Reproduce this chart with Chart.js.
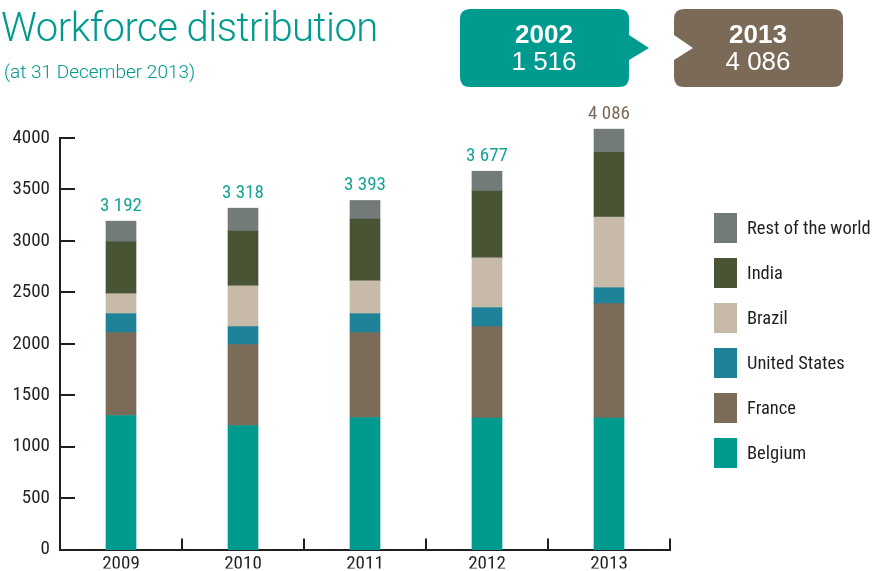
<!DOCTYPE html>
<html>
<head>
<meta charset="utf-8">
<script src="https://cdn.jsdelivr.net/npm/chart.js@4/dist/chart.umd.min.js"></script>
<style>
    html, body { margin: 0; padding: 0; background: #fff; }
    #wrap { position: relative; width: 877px; height: 571px; overflow: hidden; }
    #chart { position: absolute; left: 0; top: 0; }
    .title { position: absolute; left: 1px; top: 8px; font: 300 40px Roboto, sans-serif; letter-spacing: -0.5px; line-height: 1; color: #009a8e; white-space: nowrap; }
    .subtitle { position: absolute; left: 4px; top: 62px; font: 300 19px Roboto, sans-serif; line-height: 1; color: #009a8e; white-space: nowrap; }
    .bubble { position: absolute; top: 0; width: 877px; height: 100px; left: 0; }
    .bubble-text { position: absolute; top: 20.5px; width: 170px; text-align: center; color: #fff;
        font: 26px 'Liberation Sans', Arial, sans-serif; line-height: 27px; }
    .bubble-text b { font-weight: bold; }
</style>
</head>
<body>
<div id="wrap">
    <canvas id="chart" width="877" height="571"></canvas>
    <div class="title">Workforce distribution</div>
    <div class="subtitle">(at 31 December 2013)</div>
    <svg class="bubble" width="877" height="100">
        <path d="M470 9 H619 Q629 9 629 19 V35 L649 48 L629 60 V77 Q629 87 619 87 H470 Q460 87 460 77 V19 Q460 9 470 9 Z" fill="#009b8f"/>
        <path d="M684 9 H833 Q843 9 843 19 V77 Q843 87 833 87 H684 Q674 87 674 77 V60 L693 48 L674 35 V19 Q674 9 684 9 Z" fill="#7c6a58"/>
    </svg>
    <div class="bubble-text" style="left:459px"><b>2002</b><br>1 516</div>
    <div class="bubble-text" style="left:673px"><b>2013</b><br>4 086</div>
</div>
<script>
// ── Data ──
const years = ['2009', '2010', '2011', '2012', '2013'];
const belgium = [1303, 1206, 1284, 1277, 1277];
const france = [806, 787, 825, 890, 1113];
const unitedStates = [184, 174, 184, 184, 155];
const brazil = [194, 397, 319, 484, 687];
const india = [503, 532, 600, 648, 629];
const restOfWorld = [202, 222, 181, 194, 225];
const totals = [3192, 3318, 3393, 3677, 4086];
const yTicks = [0, 500, 1000, 1500, 2000, 2500, 3000, 3500, 4000];

const TEAL = '#009a8e';
const INK = '#231f20';
const FONT = "'Roboto Condensed', 'Liberation Sans', sans-serif";

Chart.defaults.font.family = FONT;
Chart.defaults.font.size = 19;
Chart.defaults.color = INK;

const fmt = v => String(v).replace(/\B(?=(\d{3})+(?!\d))/g, ' ');

// short tick marks drawn inside the plot, like the print version
const innerTicks = {
    id: 'innerTicks',
    afterDraw(chart) {
        const { ctx, chartArea, scales: { x, y } } = chart;
        ctx.save();
        ctx.strokeStyle = INK;
        ctx.lineWidth = 2;
        y.ticks.forEach(t => {
            const py = Math.round(y.getPixelForValue(t.value));
            ctx.beginPath();
            ctx.moveTo(chartArea.left, py);
            ctx.lineTo(chartArea.left + 15, py);
            ctx.stroke();
        });
        const n = x.ticks.length;
        for (let i = 1; i <= n; i++) {
            const px = i === n ? chartArea.right
                : (x.getPixelForValue(i - 1) + x.getPixelForValue(i)) / 2;
            ctx.beginPath();
            ctx.moveTo(Math.round(px), chartArea.bottom);
            ctx.lineTo(Math.round(px), chartArea.bottom - 11);
            ctx.stroke();
        }
        ctx.restore();
    }
};

// totals above each stack
const totalLabels = {
    id: 'totalLabels',
    afterDatasetsDraw(chart) {
        const { ctx } = chart;
        const top = chart.getDatasetMeta(chart.data.datasets.length - 1);
        ctx.save();
        ctx.font = '19px ' + FONT;
        ctx.textAlign = 'center';
        ctx.textBaseline = 'alphabetic';
        top.data.forEach((bar, i) => {
            ctx.fillStyle = i === totals.length - 1 ? '#7c6a58' : '#17a396';
            ctx.fillText(fmt(totals[i]), bar.x, bar.y - 10);
        });
        ctx.restore();
    }
};

// legend on the right, top item = top of stack
const sideLegend = {
    id: 'sideLegend',
    afterDraw(chart) {
        const { ctx } = chart;
        const ds = chart.data.datasets.slice().reverse();
        ctx.save();
        ctx.font = '18.5px ' + FONT;
        ctx.textAlign = 'left';
        ctx.textBaseline = 'alphabetic';
        ds.forEach((d, k) => {
            const y0 = 213 + k * 45;
            ctx.fillStyle = d.backgroundColor;
            ctx.fillRect(714, y0, 23, 30);
            ctx.fillStyle = INK;
            ctx.fillText(d.label, 747, y0 + 21);
        });
        ctx.restore();
    }
};

const series = [
    { label: 'Belgium', data: belgium, color: TEAL },
    { label: 'France', data: france, color: '#7b6b59' },
    { label: 'United States', data: unitedStates, color: '#1e8299' },
    { label: 'Brazil', data: brazil, color: '#c8baa9' },
    { label: 'India', data: india, color: '#495434' },
    { label: 'Rest of the world', data: restOfWorld, color: '#737b78' }
];

new Chart(document.getElementById('chart'), {
    type: 'bar',
    data: {
        labels: years,
        datasets: series.map(s => ({
            label: s.label,
            data: s.data,
            backgroundColor: s.color,
            borderWidth: 0,
            barThickness: 30,
            clip: false
        }))
    },
    options: {
        responsive: false,
        devicePixelRatio: 1,
        animation: false,
        layout: { padding: { top: 138, right: 207, bottom: 0, left: 0 } },
        plugins: { legend: { display: false }, tooltip: { enabled: false } },
        scales: {
            x: {
                stacked: true,
                grid: { display: false, drawTicks: false },
                border: { display: true, color: INK, width: 2 },
                ticks: { padding: 3, color: INK },
                afterFit: s => { s.height = 19; }
            },
            y: {
                stacked: true,
                min: yTicks[0],
                max: yTicks[yTicks.length - 1],
                afterBuildTicks: s => { s.ticks = yTicks.map(v => ({ value: v })); },
                grid: { display: false, drawTicks: false },
                border: { display: true, color: INK, width: 2 },
                ticks: { padding: 10, color: INK, callback: v => String(v) },
                afterFit: s => { s.width = 60; }
            }
        }
    },
    plugins: [innerTicks, totalLabels, sideLegend]
});
</script>
</body>
</html>
